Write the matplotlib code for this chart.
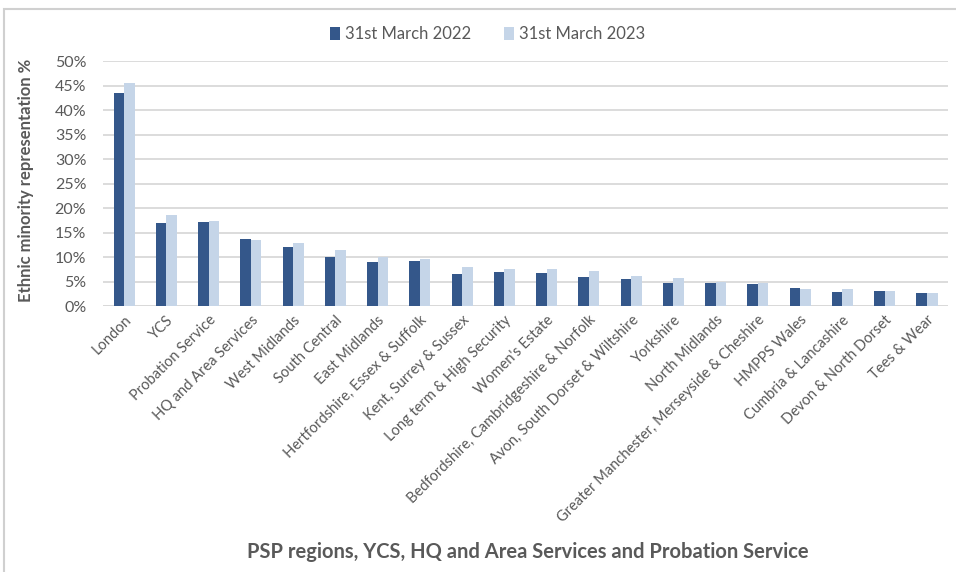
import matplotlib.pyplot as plt
import numpy as np
from matplotlib.patches import Rectangle

categories = ["London", "YCS", "Probation Service", "HQ and Area Services", "West Midlands",
              "South Central", "East Midlands", "Hertfordshire, Essex & Suffolk",
              "Kent, Surrey & Sussex", "Long term & High Security", "Women's Estate",
              "Bedfordshire, Cambridgeshire & Norfolk", "Avon, South Dorset & Wiltshire",
              "Yorkshire", "North Midlands", "Greater Manchester, Merseyside & Cheshire",
              "HMPPS Wales", "Cumbria & Lancashire", "Devon & North Dorset", "Tees & Wear"]
mar_2022 = [43.6, 16.9, 17.1, 13.6, 12.0, 10.1, 8.9, 9.1, 6.5, 6.9,
            6.8, 6.0, 5.6, 4.8, 4.8, 4.4, 3.6, 2.9, 3.1, 2.6]
mar_2023 = [45.6, 18.6, 17.3, 13.4, 12.8, 11.5, 10.0, 9.7, 7.9, 7.5,
            7.5, 7.2, 6.1, 5.7, 4.9, 4.6, 3.4, 3.4, 3.1, 2.6]
yticks = list(range(0, 55, 5))

plt.rcParams['font.family'] = ['Lato', 'DejaVu Sans']
grey = '#595959'

fig = plt.figure(figsize=(9.56, 5.72), dpi=100)
ax = fig.add_axes([0.1077, 0.465, 0.884, 0.428])

x = np.arange(len(categories))
w = 0.25
ax.bar(x - w / 2, mar_2022, w, color='#34578A', label='31st March 2022')
ax.bar(x + w / 2, mar_2023, w, color='#C5D5E8', label='31st March 2023')

ax.set_xlim(-0.5, len(categories) - 0.5)
ax.set_ylim(0, 50)
ax.set_yticks(yticks)
ax.set_yticklabels([f"{t}%" for t in yticks], fontsize=11.5, color=grey)
ax.set_xticks(x)
ax.set_xticklabels(categories, rotation=45, ha='right', rotation_mode='anchor',
                   fontsize=10.5, color=grey)
ax.tick_params(axis='y', length=0, pad=12)
ax.tick_params(axis='x', length=0, pad=5)
ax.grid(axis='y', color='#D9D9D9', linewidth=1.3)
ax.set_axisbelow(True)
for s in ax.spines.values():
    s.set_visible(False)
ax.axhline(0, color='#D9D9D9', linewidth=1.3, zorder=0)

fig.text(0.027, 0.685, 'Ethnic minority representation %', rotation=90, ha='center',
         va='center', fontsize=12, fontweight='bold', color=grey)
fig.text(0.552, 0.035, 'PSP regions, YCS, HQ and Area Services and Probation Service',
         ha='center', va='center', fontsize=14.5, fontweight='bold', color=grey)

leg = fig.legend(loc='center', bbox_to_anchor=(0.51, 0.94), ncol=2, frameon=False,
                 fontsize=12, handlelength=0.6, handleheight=0.8, columnspacing=2.0,
                 handletextpad=0.3)
for t in leg.get_texts():
    t.set_color(grey)

fig.patches.append(Rectangle((0.004, -0.1), 1.1, 1.084, transform=fig.transFigure,
                             fill=False, edgecolor='#D0D0D0', linewidth=1.5))

fig.savefig('out.png', dpi=100)
